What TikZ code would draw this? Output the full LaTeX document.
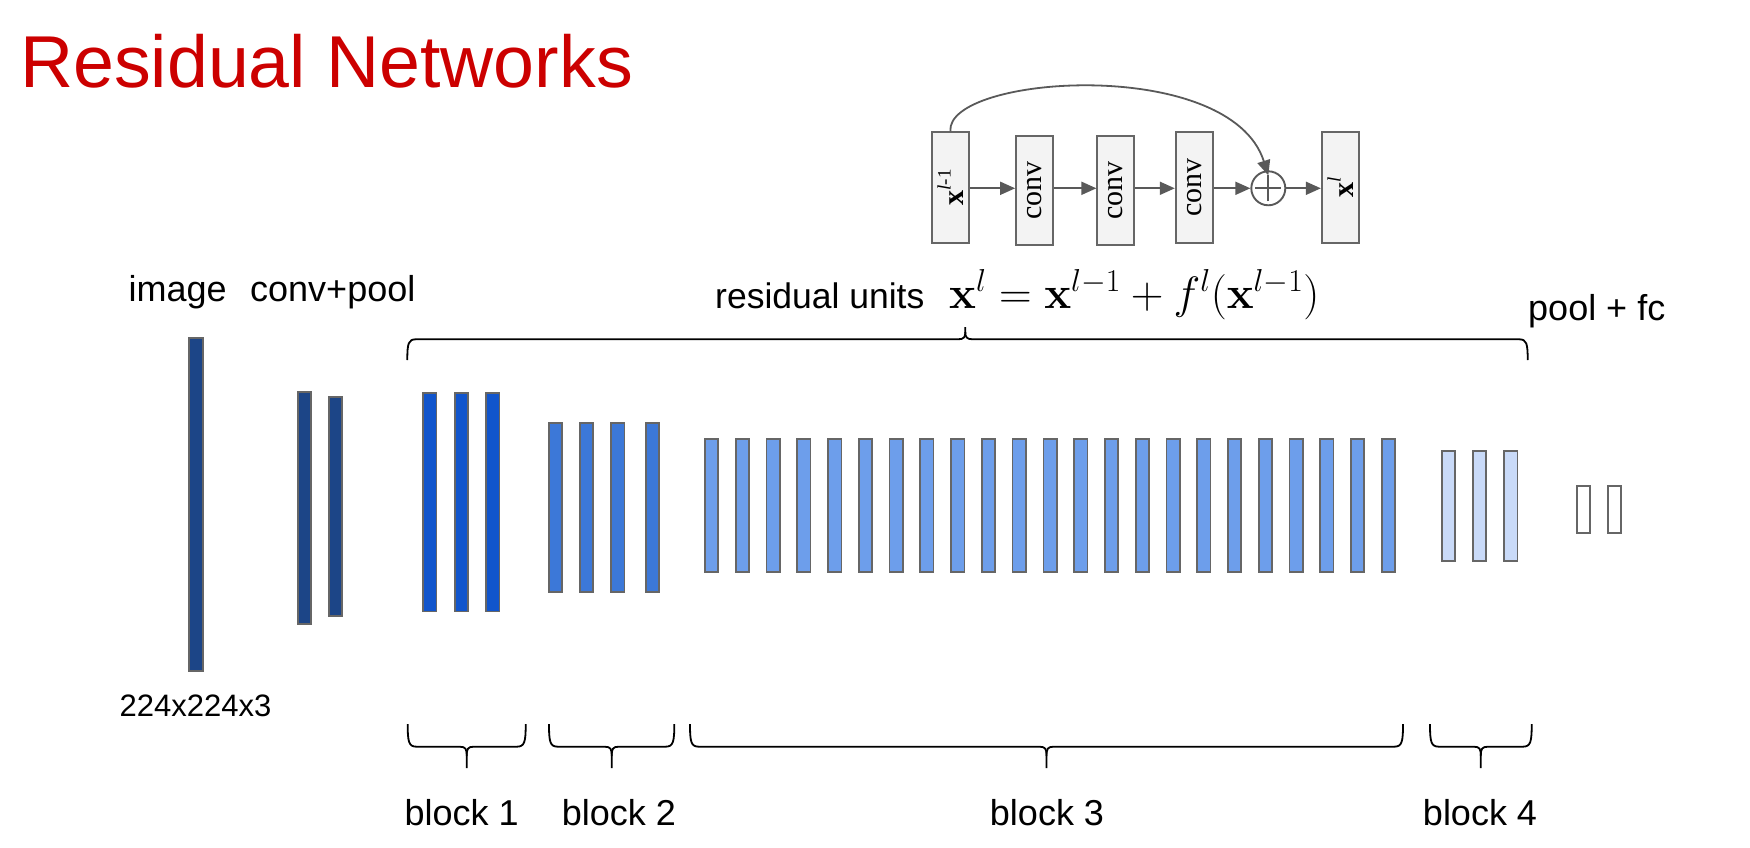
\RequirePackage{fix-cm}
\documentclass[tikz,border=0pt]{standalone}
\usepackage[no-math]{fontspec}
\setmainfont{Liberation Sans}
\newfontfamily\boxfont{Liberation Serif}
\usetikzlibrary{arrows.meta}

\definecolor{titlered}{HTML}{CC0000}
\definecolor{imgblue}{HTML}{1C4587}
\definecolor{bOne}{HTML}{1155CC}
\definecolor{bTwo}{HTML}{3C78D8}
\definecolor{bThree}{HTML}{6D9EEB}
\definecolor{bFour}{HTML}{C9DAF8}
\definecolor{edgegrey}{HTML}{666666}
\definecolor{unitgrey}{HTML}{595959}
\definecolor{unitfill}{HTML}{F3F3F3}

% downward brace under a group of layers: left end, right end, tip
\newcommand\bracedown[3]{%
  \draw[brace] (#1,724) .. controls (#1,742) and (#1+1,746.7) .. (#1+9,746.7)
     -- (#3-7,746.7) .. controls (#3-1,746.7) and (#3,749) .. (#3,756) -- (#3,768);
  \draw[brace] (#2,724) .. controls (#2,742) and (#2-1,746.7) .. (#2-9,746.7)
     -- (#3+7,746.7) .. controls (#3+1,746.7) and (#3,749) .. (#3,756);
}

\begin{document}
\begin{tikzpicture}[x=1pt,y=-1pt,
  bar/.style={draw=edgegrey, line width=1.7pt},
  brace/.style={draw=black, line width=1.8pt},
  lbl/.style={inner sep=0pt, font=\fontsize{36}{40}\selectfont},
  unitbox/.style={draw=edgegrey, fill=unitfill, line width=1.8pt, inner sep=0pt},
  unitlbl/.style={rotate=90, inner sep=0pt, font=\boxfont\fontsize{30}{34}\selectfont},
  unitarrow/.style={draw=unitgrey, line width=1.8pt, -{Triangle[length=15pt,width=13pt]}},
]
\useasboundingbox (0,0) rectangle (1750,848);

% title
\node[anchor=base west, inner sep=0pt, text=titlered,
      font=\fontsize{73.5}{80}\selectfont] (title) at (20,87.7) {Residual Networks};

% column labels
\node[lbl, anchor=base west] (limage) at (128.5,301.7) {image};
\node[lbl, anchor=base west] (lconv) at (250,301.7) {conv+pool};
\node[lbl, anchor=base west] (lpool) at (1528,320) {pool + fc};
\node[inner sep=0pt, anchor=base west, font=\fontsize{31}{34}\selectfont] (lsize) at (119.5,716.7) {224x224x3};

% input image and stem
\draw[bar, fill=imgblue] (189.3,338) rectangle (202.7,670.7);
\draw[bar, fill=imgblue] (298,391.7) rectangle (311.3,624);
\draw[bar, fill=imgblue] (328.7,396.7) rectangle (342,615.7);

% block 1
\foreach \x in {423,454.7,486}
  \draw[bar, fill=bOne] (\x,393.3) rectangle (\x+13.4,611.5);
% block 2
\foreach \x in {548.7,580,611.3,645.7}
  \draw[bar, fill=bTwo] (\x,423) rectangle (\x+13.3,592);
% block 3: 23 residual units
\foreach \i in {0,...,22}
  \draw[bar, fill=bThree] (705+30.76*\i,439) rectangle (705+30.76*\i+13.3,572.3);
% block 4
\foreach \x in {1441.7,1473,1504.3}
  \draw[bar, fill=bFour] (\x,451) rectangle (\x+13.3,561.3);
% pool + fc
\foreach \x in {1576.7,1607.7}
  \draw[bar, fill=white] (\x,485.7) rectangle (\x+13,533.3);

% brace over all residual units
\draw[brace] (407.3,360) .. controls (407.3,343) and (408.5,339.3) .. (416,339.3)
   -- (958,339.3) .. controls (964,339.3) and (965.3,337) .. (965.3,332) -- (965.3,327);
\draw[brace] (1527.7,360) .. controls (1527.7,343) and (1526.5,339.3) .. (1519,339.3)
   -- (972.6,339.3) .. controls (966.6,339.3) and (965.3,337) .. (965.3,332);

\node[lbl, anchor=base west, font=\fontsize{35.5}{40}\selectfont] (lres) at (715,308) {residual units};
\node[inner sep=0pt, anchor=base west, font=\fontsize{45.3}{50}\selectfont] (lformula) at (949,308)
  {$\mathbf{x}^{l} = \mathbf{x}^{l-1} + f^{l}(\mathbf{x}^{l-1})$};

% braces under the stages
\bracedown{407.7}{525.7}{466.7}
\bracedown{549}{674.3}{611.7}
\bracedown{690}{1403}{1046.5}
\bracedown{1430}{1531.7}{1480.8}

\node[lbl, anchor=base] (lb1) at (461.7,825) {block 1};
\node[lbl, anchor=base] (lb2) at (619,825) {block 2};
\node[lbl, anchor=base] (lb3) at (1047,825) {block 3};
\node[lbl, anchor=base] (lb4) at (1480,825) {block 4};

% one residual unit
\node[unitbox, minimum width=37.3pt, minimum height=110.4pt] (xin) at (950.4,187.5) {};
\node[unitlbl] (txin) at (xin.center)
  {\textbf{x}\raisebox{0.42em}{\fontsize{19}{20}\selectfont\itshape l\upshape -1}};
\node[unitbox, minimum width=36.7pt, minimum height=109.3pt] (cA) at (1034.4,190.3) {};
\node[unitlbl] (tcA) at (cA.center) {conv};
\node[unitbox, minimum width=37pt, minimum height=109.3pt] (cB) at (1115.8,190.3) {};
\node[unitlbl] (tcB) at (cB.center) {conv};
\node[unitbox, minimum width=37pt, minimum height=110.4pt] (cC) at (1194.2,187.5) {};
\node[unitlbl] (tcC) at (cC.center) {conv};
\node[draw=unitgrey, line width=1.9pt, circle, minimum size=34pt, inner sep=0pt] (sum) at (1268.3,188.3) {};
\draw[unitgrey, line width=1.9pt] ([xshift=-13pt]sum.center) -- ([xshift=13pt]sum.center)
  ([yshift=-13pt]sum.center) -- ([yshift=13pt]sum.center);
\node[unitbox, minimum width=37.3pt, minimum height=110.4pt] (xout) at (1340.4,187.5) {};
\node[unitlbl] (txout) at (xout.center)
  {\textbf{x}\raisebox{0.42em}{\fontsize{19}{20}\selectfont\itshape l}};

\draw[unitarrow] (xin.east |- sum.center) -- (cA.west |- sum.center);
\draw[unitarrow] (cA.east |- sum.center) -- (cB.west |- sum.center);
\draw[unitarrow] (cB.east |- sum.center) -- (cC.west |- sum.center);
\draw[unitarrow] (cC.east |- sum.center) -- (sum.west);
\draw[unitarrow] (sum.east) -- (xout.west |- sum.center);
\draw[unitarrow] (xin.north) .. controls (945,75) and (1230,55) .. ([yshift=-5pt]sum.north);
\end{tikzpicture}
\end{document}
